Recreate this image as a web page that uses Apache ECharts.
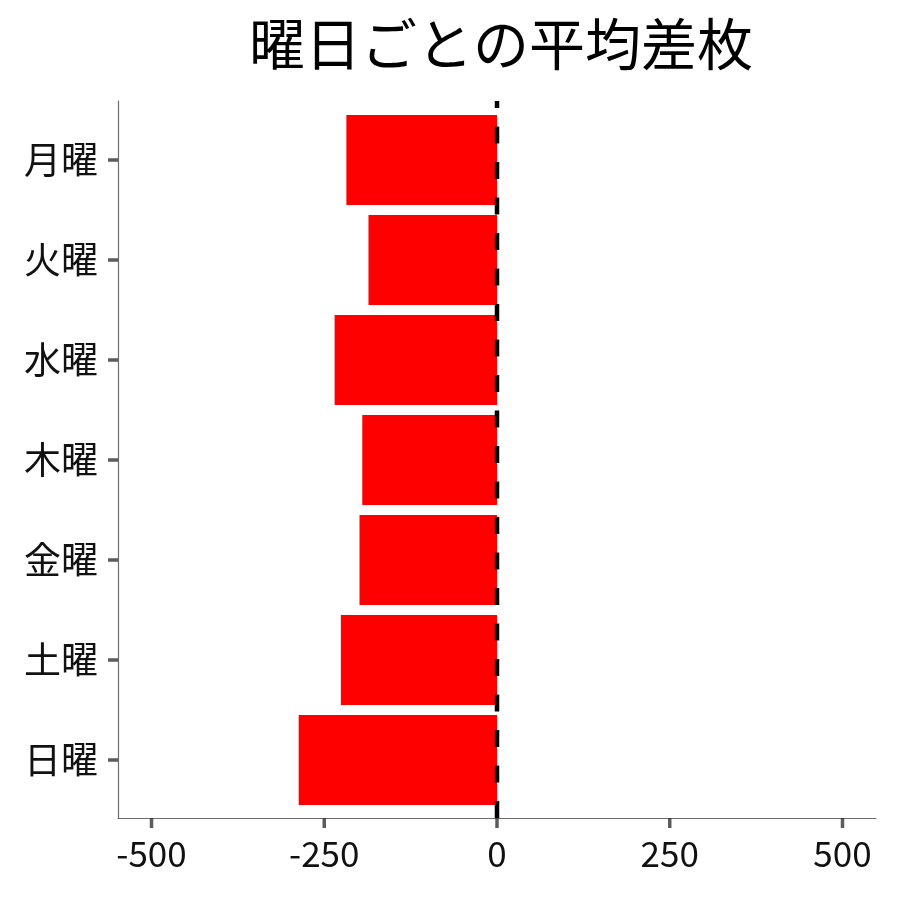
<!DOCTYPE html>
<html>
<head>
<meta charset="utf-8">
<script src="https://cdn.jsdelivr.net/npm/echarts@6/dist/echarts.min.js"></script>
<style>
  html, body { margin: 0; padding: 0; background: #fff; }
  #chart { width: 900px; height: 900px; }
</style>
</head>
<body>
<div id="chart"></div>
<script>
var days = ['月曜', '火曜', '水曜', '木曜', '金曜', '土曜', '日曜'];
var avgDiff = [-218, -186, -235, -195, -199, -226, -287];
var xTicks = [-500, -250, 0, 250, 500];
var refLine = [[0, 0], [0, 1]];

var font = '"Noto Sans CJK JP", "Noto Sans", sans-serif';
var xMin = -548.5, xMax = 548.5;

var chart = echarts.init(document.getElementById('chart'));

var option = {
    animation: false,
    title: {
        text: '曜日ごとの平均差枚',
        left: 496,
        top: 11,
        textAlign: 'center',
        textStyle: { fontFamily: font, fontSize: 56, fontWeight: 'normal', color: '#000' }
    },
    grid: [
        // bars
        { left: 118, right: 24, top: 110, height: 700 },
        // frame (axis lines, x labels, reference line)
        { left: 118, right: 24, top: 101, bottom: 82 }
    ],
    xAxis: [
        {
            gridIndex: 0, type: 'value', min: xMin, max: xMax,
            axisLine: { show: false }, axisTick: { show: false },
            axisLabel: { show: false }, splitLine: { show: false }
        },
        {
            gridIndex: 1, type: 'value', min: xMin, max: xMax,
            axisLine: { show: true, onZero: false, lineStyle: { color: '#6e6e6e', width: 1.2 } },
            axisTick: { show: false },
            axisLabel: {
                customValues: xTicks, margin: 18,
                fontFamily: font, fontSize: 35, color: '#111'
            },
            splitLine: { show: false }
        }
    ],
    yAxis: [
        {
            gridIndex: 0, type: 'category', data: days, inverse: true,
            axisLine: { show: false },
            axisTick: { show: false },
            axisLabel: { margin: 20, fontFamily: font, fontSize: 37, color: '#111' },
            splitLine: { show: false }
        },
        {
            gridIndex: 1, type: 'value', min: 0, max: 1,
            axisLine: { show: true, onZero: false, lineStyle: { color: '#6e6e6e', width: 1.2 } },
            axisTick: { show: false }, axisLabel: { show: false }, splitLine: { show: false }
        }
    ],
    series: [
        {
            type: 'bar',
            xAxisIndex: 0, yAxisIndex: 0,
            data: avgDiff,
            barCategoryGap: '10%',
            itemStyle: { color: '#ff0000' },
            z: 2
        },
        {
            // dashed reference line at 0
            type: 'line',
            xAxisIndex: 1, yAxisIndex: 1,
            data: refLine,
            symbol: 'none',
            lineStyle: { color: '#000', width: 4.5, type: [17, 18.5], dashOffset: 0 },
            z: 5
        },
        {
            // y-axis tick marks
            type: 'scatter',
            xAxisIndex: 0, yAxisIndex: 0,
            data: days.map(function (d) { return [xMin, d]; }),
            symbol: 'rect',
            symbolSize: [10, 3.5],
            symbolOffset: [-5, 0],
            clip: false,
            silent: true,
            itemStyle: { color: '#333' },
            z: 6
        },
        {
            // x-axis tick marks
            type: 'scatter',
            xAxisIndex: 1, yAxisIndex: 1,
            data: xTicks.map(function (v) { return [v, 0]; }),
            symbol: 'rect',
            symbolSize: [3.5, 10],
            symbolOffset: [0, 5],
            clip: false,
            silent: true,
            itemStyle: { color: '#333' },
            z: 6
        }
    ]
};

chart.setOption(option);
</script>
</body>
</html>
